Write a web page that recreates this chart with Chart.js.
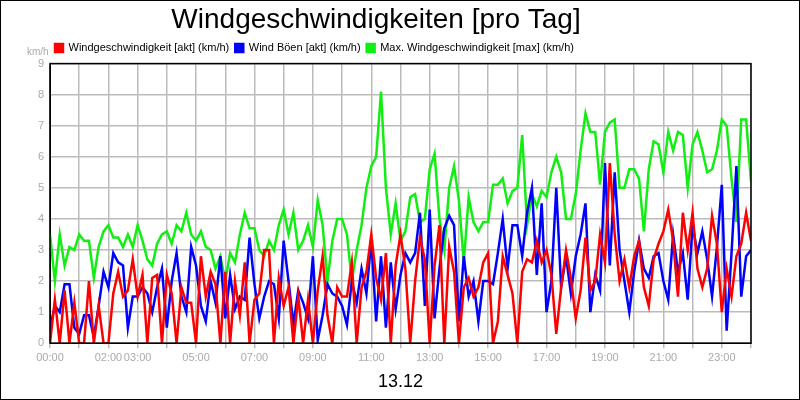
<!DOCTYPE html>
<html><head><meta charset="utf-8">
<script src="https://cdn.jsdelivr.net/npm/chart.js@4"></script>
<style>
body{margin:0;background:#fff}
#wrap{width:798px;height:398px;border:1px solid #000}
</style></head>
<body><div id="wrap"><canvas id="c"></canvas></div>
<script>
// values every 10 minutes, 00:00 .. 24:00
const akt = [0,1.4,0,1.7,0,1.3, 0,0,2.0,0,1.2,0, 0,1.6,2.3,1.5,1.7,2.7, 1.5,2.2,0,2.1,2.2,0,
  2.2,1.6,0,1.8,1.3,1.3, 0,2.8,1.5,2.3,1.9,0, 2.3,0,2.0,0.9,2.6,0, 1.4,1.6,3.0,3.0,0,2.1,
  1.2,1.8,0,1.5,0,1.4, 0,1.7,2.8,0.9,0,1.8, 1.5,1.5,2.6,0,1.8,2.3, 3.5,2.1,1.4,2.9,0,2.5,
  3.5,2.4,0,2.0,3.4,2.7, 0,2.5,3.8,0,3.1,2.3, 0,1.8,2.1,1.5,1.8,2.6, 2.9,0,0.7,2.8,2.2,1.6,
  0,2.3,2.7,2.6,3.3,2.6, 3.0,2.2,0.3,1.8,3.0,2.1, 0.8,1.7,3.4,1.7,2.0,3.5, 2.6,5.8,3.5,2.0,2.7,1.8,
  2.8,3.3,1.8,1.2,2.7,3.2, 3.6,4.3,3.3,1.5,4.2,3.0, 4.2,2.4,1.8,2.4,4.1,3.2, 1.0,2.4,1.5,2.8,3.2,4.2, 3.3];
const boeen = [0.5,1.2,1.0,1.9,1.9,0.5, 0.3,0.9,0.9,0.2,1.2,2.3, 1.8,2.9,2.6,2.5,0.5,1.5, 1.5,1.8,1.6,1.0,1.8,2.4,
  0.5,2.0,2.9,1.5,1.0,3.1, 2.5,1.2,0.7,2.0,1.3,2.8, 0.8,2.2,1.1,1.5,1.4,3.4, 1.9,0.8,1.5,2.0,1.9,0.8,
  3.3,2.0,0.6,1.7,1.3,0.8, 2.8,0.1,0.9,1.9,1.6,1.5, 1.2,0.6,2.0,1.3,2.4,1.6, 3.3,0.7,2.8,0.5,2.6,1.1,
  2.2,2.9,2.6,2.9,4.2,1.2, 4.3,0.8,2.4,3.7,4.1,3.8, 0.7,2.8,1.5,2.0,0.7,2.0, 2.0,1.9,2.9,4.0,2.4,3.8,
  3.8,2.8,4.2,5.0,2.2,4.5, 1.0,2.0,5.0,1.8,2.8,1.6, 2.8,3.5,4.5,1.0,2.2,1.7, 5.8,2.5,5.5,3.0,2.0,1.0,
  2.3,3.3,2.4,2.1,2.8,2.9, 2.0,1.4,3.5,2.3,2.9,1.4, 3.8,2.9,3.6,2.7,1.5,3.1, 5.1,0.4,2.9,5.7,1.5,2.8, 3.0];
const maxWind = [3.5,2.0,3.5,2.5,3.1,3.0, 3.5,3.3,3.3,2.1,3.1,3.6, 3.8,3.4,3.4,3.1,3.5,3.1, 3.8,3.3,2.7,2.5,3.2,3.5,
  3.6,3.2,3.8,3.6,4.2,3.5, 3.3,3.6,3.1,3.0,2.4,2.8, 2.0,2.9,2.6,3.5,4.2,3.7, 3.7,3.0,2.8,3.3,3.0,3.8,
  4.3,3.5,4.2,3.0,3.3,3.8, 3.1,4.6,3.8,2.0,3.3,4.0, 4.0,3.5,2.0,3.0,3.8,5.0, 5.7,6.0,8.1,5.0,3.5,4.5,
  3.3,3.6,4.7,4.8,3.9,4.0, 5.6,6.1,4.0,3.0,5.0,5.7, 4.6,2.6,4.7,3.9,3.6,3.9, 3.9,5.1,5.1,5.3,4.5,4.9,
  5.0,6.7,3.8,4.8,4.4,4.9, 4.7,5.5,6.0,5.5,4.0,4.0, 4.8,6.2,7.4,6.8,6.8,5.1, 6.8,7.1,7.2,5.0,5.0,5.6,
  5.6,5.3,3.6,5.6,6.5,6.4, 5.5,6.8,6.2,6.8,6.7,5.0, 6.4,6.8,6.2,5.5,5.6,6.2, 7.2,7.0,5.3,3.9,7.2,7.2, 5.2];
const labeledHours = [0,2,3,5,7,9,11,13,15,17,19,21,23];
const seriesNames = ['Windgeschwindigkeit [akt] (km/h)','Wind Böen [akt] (km/h)','Max. Windgeschwindigkeit [max] (km/h)'];

const toXY = arr => arr.map((v, i) => ({x: i / 6, y: v}));

const frame = {
  id: 'frame',
  afterLayout(chart) {
    // legend starts right of the km/h unit label
    chart.legend.left += 48;
  },
  afterDraw(chart) {
    const {ctx, chartArea: a} = chart;
    ctx.save();
    ctx.strokeStyle = '#000';
    ctx.lineWidth = 1.5;
    ctx.strokeRect(a.left, a.top, a.right - a.left, a.bottom - a.top);
    ctx.fillStyle = '#aaa';
    ctx.font = '10px "Liberation Sans", Arial';
    ctx.textAlign = 'left';
    ctx.fillText('km/h', 26, 51);
    ctx.restore();
  }
};

new Chart(document.getElementById('c'), {
  type: 'line',
  data: {
    datasets: [
      {label: seriesNames[0], data: toXY(akt), borderColor: '#ff0000', backgroundColor: '#ff0000', order: 1},
      {label: seriesNames[1], data: toXY(boeen), borderColor: '#0000ff', backgroundColor: '#0000ff', order: 2},
      {label: seriesNames[2], data: toXY(maxWind), borderColor: '#11ee11', backgroundColor: '#11ee11', order: 3}
    ]
  },
  options: {
    responsive: true,
    maintainAspectRatio: false,
    animation: false,
    layout: {padding: {left: 0, right: 48, top: 0, bottom: 2}},
    elements: {point: {radius: 0}, line: {borderWidth: 2.5, tension: 0}},
    plugins: {
      title: {display: true, text: 'Windgeschwindigkeiten [pro Tag]', color: '#000',
        font: {family: '"Liberation Sans", Arial', size: 28, weight: 'normal'}, padding: {top: 2, bottom: 0}},
      legend: {align: 'start', labels: {boxWidth: 8, boxHeight: 8, color: '#000', padding: 6,
        font: {family: '"Liberation Sans", Arial', size: 11}}},
      tooltip: {enabled: false}
    },
    scales: {
      x: {
        type: 'linear', min: 0, max: 24,
        grid: {color: '#bbb', lineWidth: 1.5, tickLength: 5},
        border: {color: '#000'},
        title: {display: true, text: '13.12', color: '#000', font: {family: '"Liberation Sans", Arial', size: 18}, padding: {top: 4}},
        ticks: {stepSize: 1, autoSkip: false, maxRotation: 0, color: '#aaa',
          font: {family: '"Liberation Sans", Arial', size: 11},
          callback: v => labeledHours.includes(v) ? String(v).padStart(2, '0') + ':00' : ''}
      },
      y: {
        min: 0, max: 9,
        afterFit: s => { s.width = 49; },
        grid: {color: '#bbb', lineWidth: 1.5, tickLength: 0},
        border: {color: '#000'},
        ticks: {stepSize: 1, color: '#aaa', padding: 6, font: {family: '"Liberation Sans", Arial', size: 11}}
      }
    }
  },
  plugins: [frame]
});
</script></body></html>
